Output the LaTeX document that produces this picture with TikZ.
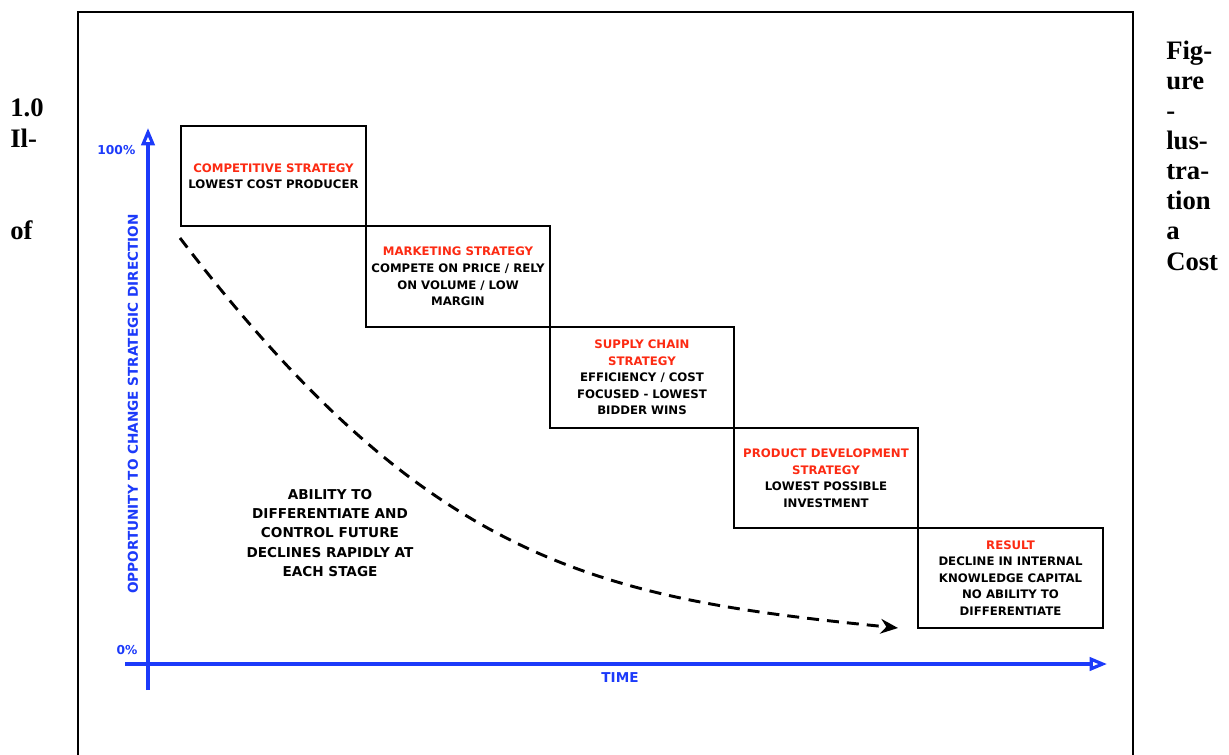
\documentclass[tikz,border=0pt]{standalone}
\usepackage{fontspec}
\setmainfont{DejaVu Sans}
\newfontfamily\sideserif{Liberation Serif}
\usetikzlibrary{arrows.meta}
\definecolor{cAxis}{RGB}{28,58,250}
\definecolor{cHead}{RGB}{252,42,18}
\tikzset{
  stage/.style={draw,line width=1.6pt,minimum width=138.4pt,minimum height=75.4pt,inner sep=0pt,align=center,font=\fontsize{8.8}{12.4}\selectfont\bfseries},
  axislabel/.style={text=cAxis,font=\fontsize{10.2}{12}\selectfont\bfseries},
  sideword/.style={anchor=base west,inner sep=0pt,font=\fontsize{20}{24}\selectfont\sideserif\bfseries}
}
\begin{document}
\begin{tikzpicture}[x=0.75pt,y=-0.75pt]
\useasboundingbox (0,0) rectangle (1229,754);
\draw[line width=1.5pt] (78,760) -- (78,12) -- (1133,12) -- (1133,760);
\node[sideword] (l1) at (10,116) {1.0};
\node[sideword] (l2) at (10,147) {Il-};
\node[sideword] (l3) at (10,239) {of};
\node[sideword] (r1) at (1166,59) {Fig-};
\node[sideword] (r2) at (1166,89) {ure};
\node[sideword] (r3) at (1166,119) {-};
\node[sideword] (r4) at (1166,149) {lus-};
\node[sideword] (r5) at (1166,179) {tra-};
\node[sideword] (r6) at (1166,209) {tion};
\node[sideword] (r7) at (1166,239) {a};
\node[sideword] (r8) at (1166,270) {Cost};
\coordinate (ybot) at (148,690);
\coordinate (ytop) at (148,128);
\coordinate (xleft) at (125,664);
\coordinate (xright) at (1107,664);
\draw[cAxis,line width=2.4pt,-{Triangle[open,length=13pt,width=10pt]}] (ybot) -- (ytop);
\draw[cAxis,line width=2.4pt,-{Triangle[open,length=13pt,width=10pt]}] (xleft) -- (xright);
\node[axislabel,anchor=east,font=\fontsize{9.2}{11}\selectfont\bfseries] (top) at (140,150) {100\%};
\node[axislabel,font=\fontsize{9.2}{11}\selectfont\bfseries] (zero) at (127,650) {0\%};
\node[axislabel,rotate=90] (opp) at (133,404) {OPPORTUNITY TO CHANGE STRATEGIC DIRECTION};
\node[axislabel] (time) at (620,678) {TIME};
\node[stage] (comp) at (273.5,176) {\textcolor{cHead}{COMPETITIVE STRATEGY}\\LOWEST COST PRODUCER};
\node[stage] (mark) at (458,276.5) {\textcolor{cHead}{MARKETING STRATEGY}\\COMPETE ON PRICE / RELY\\ON VOLUME / LOW\\MARGIN};
\node[stage] (supp) at (642,377.5) {\textcolor{cHead}{SUPPLY CHAIN}\\\textcolor{cHead}{STRATEGY}\\EFFICIENCY / COST\\FOCUSED - LOWEST\\BIDDER WINS};
\node[stage] (prod) at (826,478) {\textcolor{cHead}{PRODUCT DEVELOPMENT}\\\textcolor{cHead}{STRATEGY}\\LOWEST POSSIBLE\\INVESTMENT};
\node[stage] (res) at (1010.5,578) {\textcolor{cHead}{RESULT}\\DECLINE IN INTERNAL\\KNOWLEDGE CAPITAL\\NO ABILITY TO\\DIFFERENTIATE};
\node[align=center,font=\fontsize{10.2}{14.6}\selectfont\bfseries] (abil) at (330,533) {ABILITY TO\\DIFFERENTIATE AND\\CONTROL FUTURE\\DECLINES RAPIDLY AT\\EACH STAGE};
\coordinate (cstart) at (180,238);
\coordinate (cend) at (898,628);
\draw[line width=2.2pt,dash pattern=on 9pt off 6pt,-{Stealth[length=13pt,width=11pt]}] (cstart) .. controls (430,565) and (598,598) .. (cend);
\end{tikzpicture}
\end{document}
